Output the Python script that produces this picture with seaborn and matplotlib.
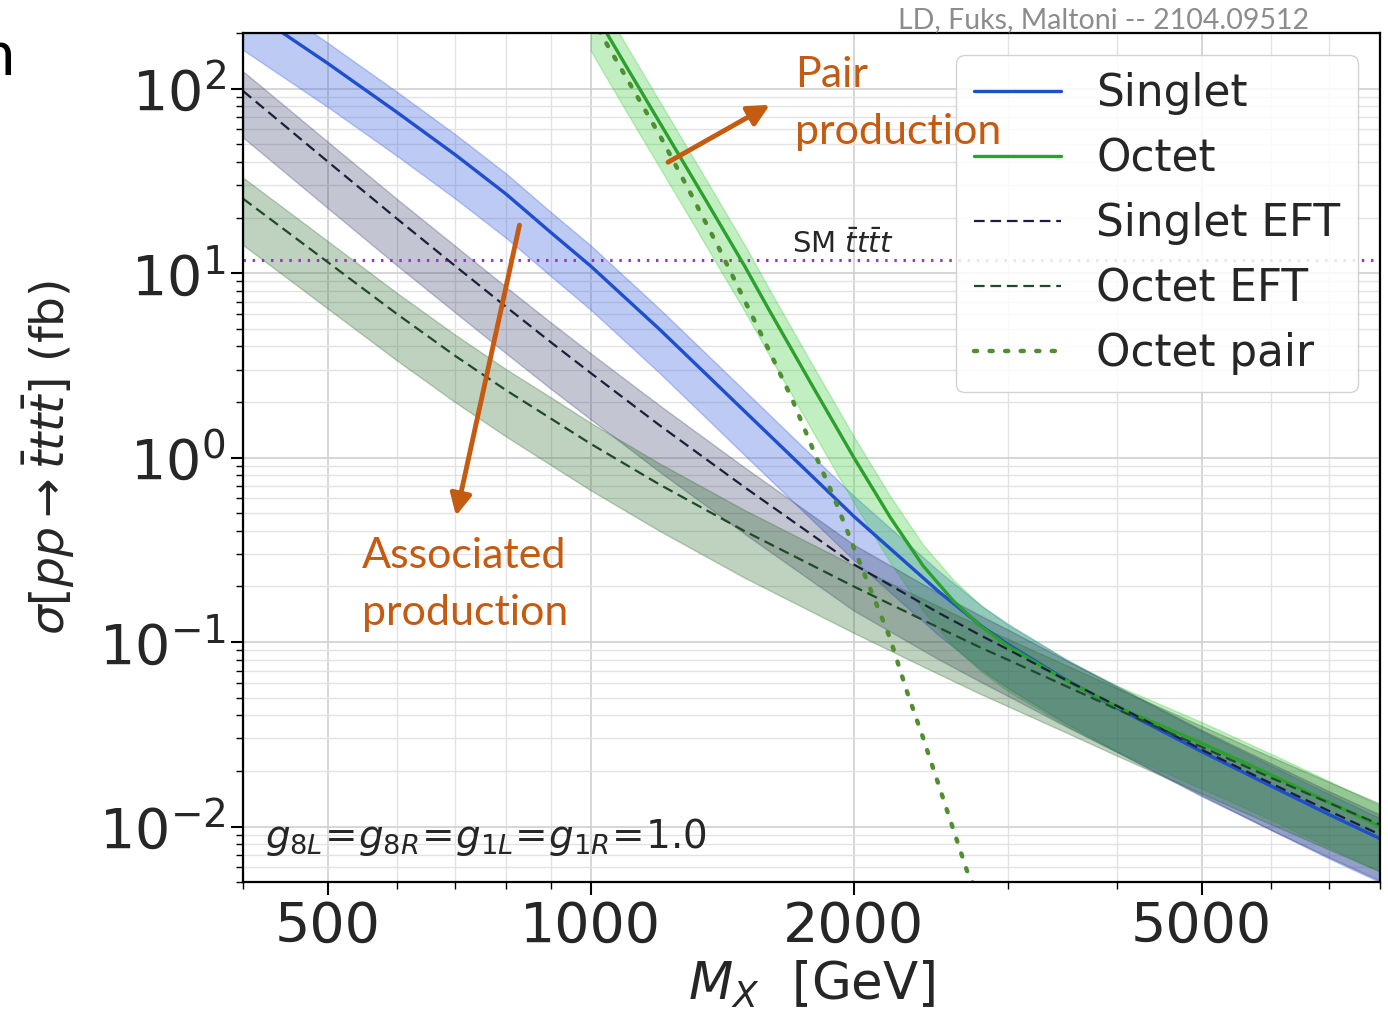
import matplotlib
matplotlib.use("Agg")
import matplotlib.pyplot as plt
import seaborn as sns
from matplotlib.ticker import LogLocator, NullFormatter

# --- data (M in GeV, sigma in fb) ---
mass = [400, 500, 600, 700, 800, 900, 1000, 1200, 1500, 2000, 2500, 2800, 3000, 3500, 4000, 5000, 6000, 7000, 8000]

singlet = [280, 137, 74.4, 43.7, 26.8, 16.6, 10.9, 4.93, 1.78, 0.48, 0.188, 0.122, 0.0973, 0.0623, 0.044, 0.0255, 0.0166, 0.0116, 0.0086]
singlet_hi = [361, 177, 96.0, 56.4, 34.6, 21.4, 14.1, 6.36, 2.30, 0.619, 0.243, 0.157, 0.1255, 0.0804, 0.0568, 0.0329, 0.0214, 0.0150, 0.0111]
singlet_lo = [162, 79.5, 43.2, 25.3, 15.5, 9.63, 6.32, 2.86, 1.03, 0.278, 0.109, 0.0708, 0.0564, 0.0361, 0.0255, 0.0148, 0.0096, 0.0067, 0.0050]

singlet_eft = [97, 40.2, 19.7, 10.9, 6.56, 4.22, 2.87, 1.49, 0.69, 0.2635, 0.144, 0.108, 0.0913, 0.0621, 0.0451, 0.0261, 0.01716, 0.01213, 0.00904]
singlet_eft_hi = [124, 51.5, 25.2, 14.0, 8.40, 5.40, 3.67, 1.91, 0.883, 0.337, 0.184, 0.138, 0.117, 0.0795, 0.0577, 0.0334, 0.0220, 0.0155, 0.0116]
singlet_eft_lo = [54.3, 22.5, 11.0, 6.10, 3.67, 2.36, 1.61, 0.834, 0.386, 0.148, 0.0806, 0.0605, 0.0511, 0.0348, 0.0253, 0.0146, 0.0096, 0.0068, 0.0051]

octet_eft = [25.3, 11.46, 6.0, 3.55, 2.316, 1.627, 1.186, 0.712, 0.399, 0.200, 0.1198, 0.0928, 0.0802, 0.0576, 0.0432, 0.0270, 0.0184, 0.0134, 0.01026]
octet_eft_hi = [32.9, 14.9, 7.8, 4.62, 3.01, 2.12, 1.54, 0.926, 0.519, 0.260, 0.156, 0.121, 0.104, 0.0749, 0.0562, 0.0351, 0.0239, 0.0174, 0.0133]
octet_eft_lo = [14.2, 6.42, 3.36, 1.99, 1.30, 0.911, 0.664, 0.399, 0.223, 0.112, 0.0671, 0.052, 0.0449, 0.0323, 0.0242, 0.0151, 0.0103, 0.0075, 0.0057]

mass_octet = [1000, 1100, 1200, 1300, 1400, 1500, 1600, 1800, 2000, 2200, 2400, 2600, 2800, 3000, 3500, 4000, 5000, 6000, 7000, 8000]
octet = [280, 130, 65, 34.4, 19.0, 10.9, 6.3, 2.37, 1.0, 0.476, 0.259, 0.167, 0.121, 0.0952, 0.0618, 0.0446, 0.0283, 0.0191, 0.0135, 0.0100]
octet_hi = [364, 169, 84.5, 44.7, 24.7, 14.2, 8.19, 3.08, 1.30, 0.619, 0.337, 0.217, 0.157, 0.124, 0.0803, 0.058, 0.0368, 0.0248, 0.0176, 0.013]
octet_lo = [160, 74.1, 37.1, 19.6, 10.8, 6.21, 3.59, 1.35, 0.57, 0.271, 0.148, 0.095, 0.069, 0.0543, 0.0352, 0.0254, 0.0161, 0.0109, 0.0077, 0.0057]

mass_pair = [1000, 1100, 1200, 1300, 1400, 1500, 1600, 1700, 1800, 1900, 2000, 2100, 2200, 2300, 2400, 2500, 2600, 2700, 2800]
octet_pair = [246, 113, 55.5, 27.2, 13.8, 7.1, 3.80, 2.07, 1.08, 0.600, 0.325, 0.182, 0.105, 0.054, 0.0303, 0.0169, 0.0096, 0.0056, 0.0040]

sm_tttt = 11.8

# --- style ---
sns.set_style("ticks")
plt.rcParams["font.family"] = ["DejaVu Sans"]
plt.rcParams["mathtext.fontset"] = "dejavusans"

fig = plt.figure(figsize=(13.88, 10.19), dpi=100)
ax = fig.add_axes([0.1751, 0.1344, 0.8191, 0.8332])
ax.set_xscale("log")
ax.set_yscale("log")

c_singlet = "#1f4fcc"
c_octet = "#2ca02c"
c_seft = "#1b1f3b"
c_oeft = "#1e4a28"
c_pair = "#4f8f32"

# uncertainty bands
ax.fill_between(mass, singlet_lo, singlet_hi, color="royalblue", alpha=0.35, lw=1)
ax.fill_between(mass_octet, octet_lo, octet_hi, color="limegreen", alpha=0.3, lw=1)
ax.fill_between(mass, singlet_eft_lo, singlet_eft_hi, color="#2a3560", alpha=0.28, lw=1)
ax.fill_between(mass, octet_eft_lo, octet_eft_hi, color="#2e6b2e", alpha=0.3, lw=1)

# central lines
sns.lineplot(x=mass, y=singlet, ax=ax, color=c_singlet, lw=2.4, label="Singlet")
sns.lineplot(x=mass_octet, y=octet, ax=ax, color=c_octet, lw=2.4, label="Octet")
sns.lineplot(x=mass, y=singlet_eft, ax=ax, color=c_seft, lw=1.6,
             linestyle=(0, (4.8, 2.6)), label="Singlet EFT")
sns.lineplot(x=mass, y=octet_eft, ax=ax, color=c_oeft, lw=1.6,
             linestyle=(0, (4.8, 2.6)), label="Octet EFT")
sns.lineplot(x=mass_pair, y=octet_pair, ax=ax, color=c_pair, lw=3.2,
             linestyle=(0, (0.7, 2.8)), dash_capstyle="round", label="Octet pair")

ax.axhline(sm_tttt, color="#8a3fb5", lw=2.2, linestyle=(0, (0.8, 2.2)), zorder=1.5)
ax.text(1700, 12.8, r"SM $\bar{t}t\bar{t}t$", fontsize=21, va="baseline", ha="left")

ax.set_xlim(400, 8000)
ax.set_ylim(0.005, 200)

ax.set_xticks([500, 1000, 2000, 5000])
ax.set_xticklabels(["500", "1000", "2000", "5000"])
ax.xaxis.set_minor_locator(LogLocator(base=10, subs=range(2, 10)))
ax.xaxis.set_minor_formatter(NullFormatter())
ax.yaxis.set_major_locator(LogLocator(base=10, numticks=10))
ax.yaxis.set_minor_locator(LogLocator(base=10, subs=range(2, 10), numticks=20))
ax.yaxis.set_minor_formatter(NullFormatter())

ax.tick_params(which="major", labelsize=40, length=9, width=1.5, color="black")
ax.tick_params(which="minor", length=5, width=1.0, color="black")
ax.grid(which="major", color="#cfcfcf", lw=1.2)
ax.grid(which="minor", color="#e2e2e2", lw=1.0)
for s in ax.spines.values():
    s.set_color("black")
    s.set_linewidth(1.6)

ax.set_xlabel(r"$M_X$  [GeV]", fontsize=37)
ax.set_ylabel(r"$\sigma[pp\rightarrow\bar{t}tt\bar{t}]$ (fb)", fontsize=34, labelpad=16)

ax.text(0.019, 0.028, r"$g_{8L}\!=\!g_{8R}\!=\!g_{1L}\!=\!g_{1R}\!=\!1.0$", transform=ax.transAxes,
        fontsize=28, va="bottom", ha="left")

handles, labels = ax.get_legend_handles_labels()
leg = ax.legend(handles, labels, loc="upper right", fontsize=31.5, handlelength=2.0,
                framealpha=0.85, edgecolor="#cccccc", fancybox=True)
leg.set_zorder(5)

# slide annotations
orange = "#c55a11"
ax.annotate("", xy=(1613, 83.0), xytext=(1218, 39.2),
            arrowprops=dict(arrowstyle="-|>", color=orange, lw=3.5, mutation_scale=32))
ax.annotate("", xy=(700, 0.467), xytext=(830, 18.8),
            arrowprops=dict(arrowstyle="-|>", color=orange, lw=3.5, mutation_scale=32))
ax.text(1715, 150, "Pair\nproduction", color=orange, fontsize=31, family="Lato",
        va="top", ha="left", linespacing=1.62, zorder=6)
ax.text(547, 0.37, "Associated\nproduction", color=orange, fontsize=31, family="Lato",
        va="top", ha="left", linespacing=1.6, zorder=6)

fig.text(0.647, 0.9725, "LD, Fuks, Maltoni -- 2104.09512", color="#8c8c8c",
         fontsize=20.5, family="Lato", ha="left", va="baseline")
fig.text(-0.0137, 0.9264, "n", color="black", fontsize=44, family="Lato",
         ha="left", va="baseline")

fig.savefig("out.png", dpi=100)
